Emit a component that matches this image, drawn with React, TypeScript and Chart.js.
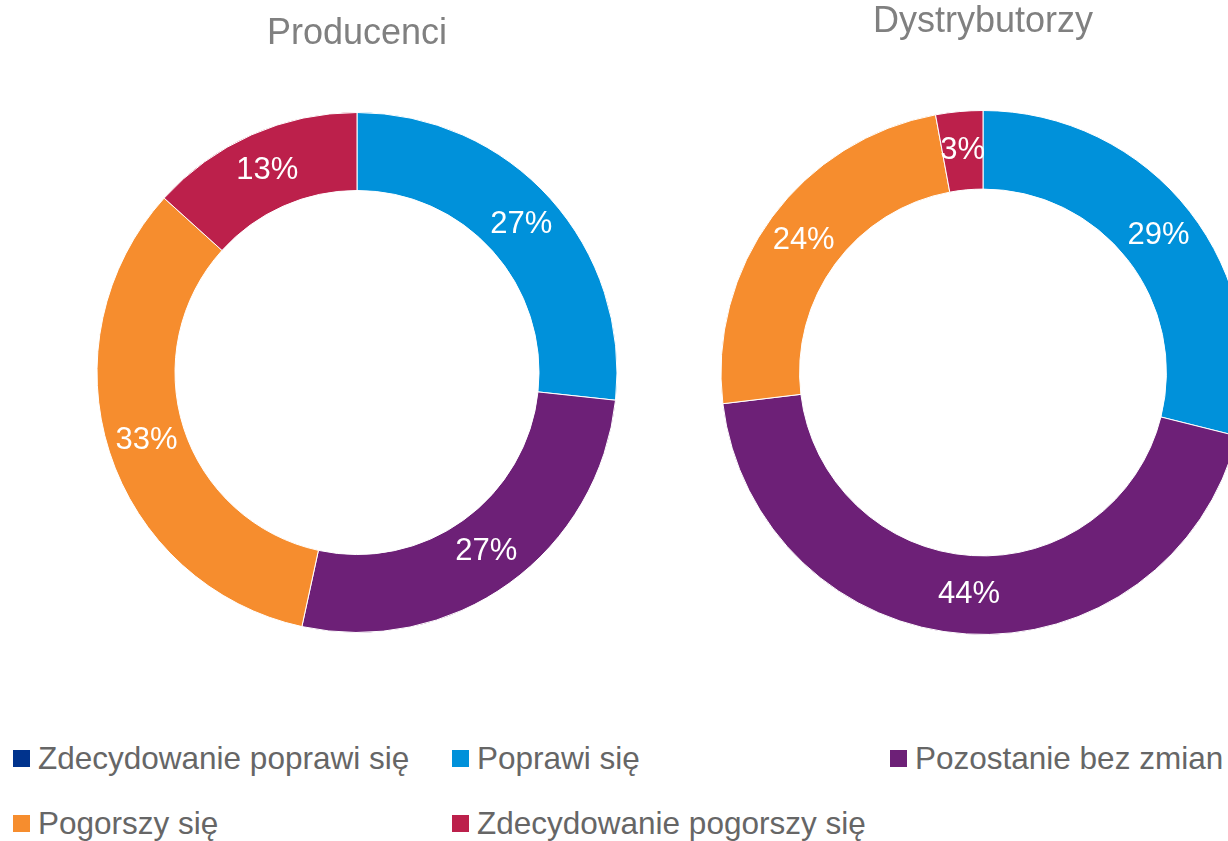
import React, { useEffect, useRef } from "react";
import { Chart, registerables } from "chart.js";

Chart.register(...registerables);

const categories = [
  "Zdecydowanie poprawi się",
  "Poprawi się",
  "Pozostanie bez zmian",
  "Pogorszy się",
  "Zdecydowanie pogorszy się",
];
const producenciValues = [0, 26.7, 26.7, 33.3, 13.3];
const dystrybutorzyValues = [0, 28.9, 44.2, 24, 2.9];
const colors = ["#00338D", "#0091DA", "#6D2077", "#F68D2E", "#BC204B"];
const titles = ["Producenci", "Dystrybutorzy"];

const FONT = "'Liberation Sans', Arial, sans-serif";

const labelPlugin = {
  id: "sliceLabels",
  afterDatasetsDraw(chart: any) {
    const ctx = chart.ctx;
    const meta = chart.getDatasetMeta(0);
    const data = chart.data.datasets[0].data as number[];
    ctx.save();
    ctx.fillStyle = "#ffffff";
    ctx.font = `31px ${FONT}`;
    ctx.textAlign = "center";
    ctx.textBaseline = "middle";
    meta.data.forEach((arc: any, i: number) => {
      const v = data[i];
      if (!v) return;
      const p = arc.tooltipPosition();
      ctx.fillText(`${Math.round(v)}%`, p.x, p.y);
    });
    ctx.restore();
  },
};

function Donut({
  title,
  values,
  left,
  titlePadTop,
  titlePadBottom,
  layoutBottom,
}: {
  title: string;
  values: number[];
  left: number;
  titlePadTop: number;
  titlePadBottom: number;
  layoutBottom: number;
}) {
  const ref = useRef<HTMLCanvasElement>(null);
  useEffect(() => {
    if (!ref.current) return;
    const chart = new Chart(ref.current, {
      type: "doughnut",
      data: {
        labels: categories,
        datasets: [
          {
            data: values,
            backgroundColor: colors,
            borderColor: "#ffffff",
            borderWidth: 1,
            hoverBorderWidth: 1,
            hoverOffset: 0,
          },
        ],
      },
      options: {
        responsive: false,
        animation: false,
        cutout: "70%",
        layout: { padding: { top: 0, bottom: layoutBottom, left: 0, right: 0 } },
        plugins: {
          legend: { display: false },
          tooltip: { enabled: false },
          title: {
            display: true,
            text: title,
            color: "#808080",
            font: { family: FONT, size: 36, weight: "normal", lineHeight: 1.2 },
            padding: { top: titlePadTop, bottom: titlePadBottom },
          },
        },
      },
      plugins: [labelPlugin],
    });
    return () => chart.destroy();
  }, []);
  return (
    <canvas
      ref={ref}
      width={714}
      height={680}
      style={{ position: "absolute", left, top: 0, width: 714, height: 680 }}
    />
  );
}

export default function App() {
  return (
    <div
      style={{
        position: "fixed",
        left: 0,
        top: 0,
        width: 1228,
        height: 841,
        overflow: "hidden",
        background: "#ffffff",
      }}
    >
      <Donut
        title={titles[0]}
        values={producenciValues}
        left={0}
        titlePadTop={12.4}
        titlePadBottom={56.4}
        layoutBottom={47}
      />
      <Donut
        title={titles[1]}
        values={dystrybutorzyValues}
        left={626}
        titlePadTop={0}
        titlePadBottom={66.8}
        layoutBottom={45}
      />
      <div
        style={{
          position: "absolute",
          left: 13,
          top: 736,
          display: "grid",
          gridTemplateColumns: "439px 438px 340px",
          gridAutoRows: "65px",
          fontFamily: FONT,
          fontSize: 31.5,
          color: "#666666",
        }}
      >
        {categories.map((c, i) => (
          <div
            key={c}
            style={{ display: "flex", alignItems: "center", whiteSpace: "nowrap", height: 44 }}
          >
            <span
              style={{
                display: "inline-block",
                width: 17,
                height: 17,
                background: colors[i],
                marginRight: 8,
                flex: "none",
              }}
            />
            <span>{c}</span>
          </div>
        ))}
      </div>
    </div>
  );
}
